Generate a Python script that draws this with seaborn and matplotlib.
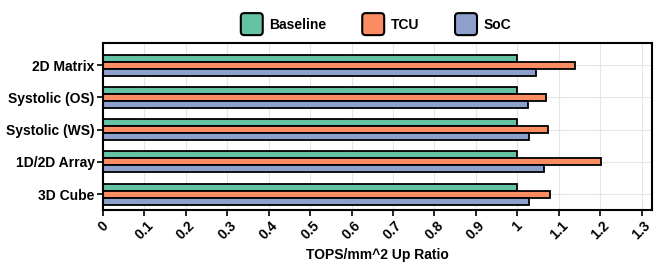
import matplotlib
matplotlib.use("Agg")
import matplotlib.pyplot as plt
import seaborn as sns
import pandas as pd
from matplotlib.patches import FancyBboxPatch
from matplotlib.legend_handler import HandlerPatch

categories = ["2D Matrix", "Systolic (OS)", "Systolic (WS)", "1D/2D Array", "3D Cube"]
baseline = [1.0, 1.0, 1.0, 1.0, 1.0]
tcu = [1.138, 1.070, 1.075, 1.201, 1.079]
soc = [1.045, 1.026, 1.028, 1.064, 1.028]
series = ["Baseline", "TCU", "SoC"]
xticks = [0, 0.1, 0.2, 0.3, 0.4, 0.5, 0.6, 0.7, 0.8, 0.9, 1, 1.1, 1.2, 1.3]
xticklabels = ["0", "0.1", "0.2", "0.3", "0.4", "0.5", "0.6", "0.7", "0.8", "0.9", "1", "1.1", "1.2", "1.3"]

rows = []
for name, vals in zip(series, [baseline, tcu, soc]):
    for c, v in zip(categories, vals):
        rows.append({"Arch": c, "Type": name, "Ratio": v})
df = pd.DataFrame(rows)

sns.set_theme(style="whitegrid")
plt.rcParams["font.family"] = ["Liberation Sans", "DejaVu Sans"]
plt.rcParams["font.weight"] = "bold"
plt.rcParams["text.color"] = "black"
plt.rcParams["axes.labelcolor"] = "black"
plt.rcParams["xtick.color"] = "black"
plt.rcParams["ytick.color"] = "black"

fig, ax = plt.subplots(figsize=(6.64, 2.75), dpi=100)
palette = ["#66c2a5", "#fc8d62", "#8da0cb"]
sns.barplot(data=df, y="Arch", x="Ratio", hue="Type", orient="h", palette=palette,
            width=0.65, edgecolor="black", linewidth=1.3, ax=ax, saturation=1)

ax.set_xlim(0, 1.325)
ax.set_ylim(4.5, -0.68)
ax.set_xticks(xticks)
ax.set_xticklabels(xticklabels, rotation=45, fontsize=10, fontweight="bold", color="black")
ax.set_ylabel("")
ax.set_xlabel("TOPS/mm^2 Up Ratio", fontsize=10, fontweight="bold", color="black")
for lab in ax.get_yticklabels():
    lab.set_fontweight("bold")
    lab.set_fontsize(10)
    lab.set_color("black")
ax.tick_params(axis="both", which="major", length=4, width=1.2, color="black", direction="out",
               bottom=True, left=True, pad=2)
ax.grid(True, color="#e5e5e5", linewidth=0.8)
for s in ax.spines.values():
    s.set_color("black")
    s.set_linewidth(1.5)


def make_round(legend, orig_handle, xdescent, ydescent, width, height, fontsize):
    return FancyBboxPatch((-xdescent, -ydescent), width, height,
                          boxstyle="round,pad=0,rounding_size=2.5")


handles, labels = ax.get_legend_handles_labels()
leg = ax.legend(handles, labels, loc="lower center", bbox_to_anchor=(0.497, 0.99), ncol=3, frameon=False,
                handlelength=1.58, handleheight=2.06, columnspacing=2.6, handletextpad=0.45,
                prop={"weight": "bold", "size": 10}, borderaxespad=0.3,
                handler_map={h: HandlerPatch(patch_func=make_round) for h in handles})
for h in leg.legend_handles:
    h.set_linewidth(1.5)
    h.set_edgecolor("black")

fig.subplots_adjust(left=0.155, right=0.982, top=0.843, bottom=0.235)
fig.savefig("out.png", dpi=100)
